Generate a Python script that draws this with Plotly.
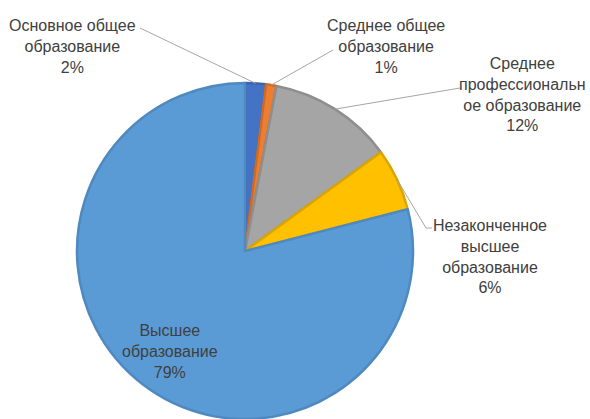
import math
import plotly.graph_objects as go

# ---- data ----
categories = ["Основное общее образование", "Среднее общее образование",
              "Среднее профессиональное образование", "Незаконченное высшее образование",
              "Высшее образование"]
values = [2, 1, 12, 6, 79]
label_texts = ["Основное общее<br>образование<br>2%",
               "Среднее общее<br>образование<br>1%",
               "Среднее<br>профессиональн<br>ое образование<br>12%",
               "Незаконченное<br>высшее<br>образование<br>6%",
               "Высшее<br>образование<br>79%"]

# ---- styles / layout ----
W, H = 590, 419
colors = ["#4472C4", "#ED7D31", "#A5A5A5", "#FFC000", "#5B9BD5"]
edge_colors = ["#3A64AE", "#CC6A28", "#8E8E8E", "#DBA500", "#4E89C0"]
CX, CY, R = 245, 251, 168   # pie centre / radius in pixels (from top-left)
label_pos = [(72, 46), (386, 46), (522, 95), (490, 256), (170, 351)]
label_line_start = [[(140, 28)], [(333, 50)], [(460, 88)], [(432, 228), (426, 228)], None]
text_color = "#404040"
font_family = "Liberation Sans, Arial, sans-serif"
font_size = 16


def px(x):
    return x / W


def py(y):
    return 1 - y / H


fig = go.Figure()
fig.add_trace(go.Pie(
    labels=categories, values=values, sort=False, direction="clockwise",
    rotation=0, textinfo="none", hoverinfo="label+percent",
    marker=dict(colors=colors, line=dict(color=edge_colors, width=2.5)),
    domain=dict(x=[px(CX - R), px(CX + R)], y=[max(0, py(CY + R)), py(CY - R)]),
    showlegend=False,
))

total = sum(values)
cum = 0
shapes = []
annotations = []
for i, v in enumerate(values):
    mid = (cum + v / 2) / total * 2 * math.pi
    cum += v
    ax = CX + R * math.sin(mid)
    ay = CY - R * math.cos(mid)
    pts = label_line_start[i]
    if pts:
        path_pts = pts + [(ax, ay)]
        for (x0, y0), (x1, y1) in zip(path_pts[:-1], path_pts[1:]):
            shapes.append(dict(type="line", xref="paper", yref="paper",
                               x0=px(x0), y0=py(y0), x1=px(x1), y1=py(y1),
                               line=dict(color="#A6A6A6", width=1)))
    lx, ly = label_pos[i]
    annotations.append(dict(x=px(lx), y=py(ly), xref="paper", yref="paper",
                            text=label_texts[i], showarrow=False,
                            xanchor="center", yanchor="middle", align="center",
                            font=dict(family=font_family, size=font_size, color=text_color)))

fig.update_layout(
    width=W, height=H, margin=dict(l=0, r=0, t=0, b=0),
    paper_bgcolor="white", plot_bgcolor="white",
    font=dict(family=font_family, size=font_size, color=text_color),
    shapes=shapes, annotations=annotations,
)

fig.write_html("out.html", post_script="document.body.style.margin='0';",
               config={"displayModeBar": False})
